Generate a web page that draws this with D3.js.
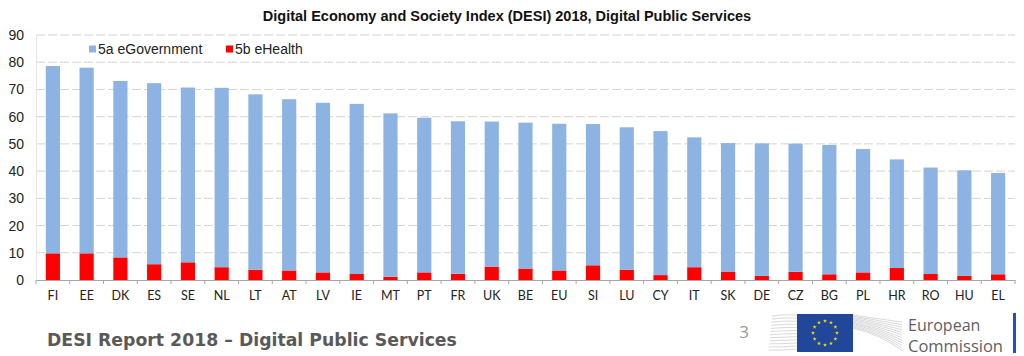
<!DOCTYPE html>
<html><head><meta charset="utf-8">
<script src="https://cdn.jsdelivr.net/npm/d3@7/dist/d3.min.js"></script>
<style>body{margin:0;background:#fff;}svg{display:block;}</style>
</head><body>
<svg id="c" width="1024" height="356"></svg>
<script>
const countries = ["FI","EE","DK","ES","SE","NL","LT","AT","LV","IE","MT","PT","FR","UK","BE","EU","SI","LU","CY","IT","SK","DE","CZ","BG","PL","HR","RO","HU","EL"];
const eHealth = [9.8,9.8,8.3,5.8,6.5,4.7,3.8,3.5,2.8,2.2,1.2,2.8,2.3,4.9,4.2,3.5,5.4,3.8,1.8,4.7,3.1,1.5,3.0,2.1,2.8,4.4,2.2,1.5,2.1];
const eGovernment = [68.8,68.2,64.8,66.5,64.2,65.9,64.4,62.9,62.3,62.5,60.0,56.8,56.0,53.3,53.6,53.9,51.9,52.3,52.9,47.7,47.2,48.7,47.1,47.5,45.3,39.9,39.1,38.8,37.2];
const yTicks = [0,10,20,30,40,50,60,70,80,90];
const seriesNames = ["5a eGovernment","5b eHealth"];
const title = "Digital Economy and Society Index (DESI) 2018, Digital Public Services";

const svg = d3.select("#c");
const L = 36, R = 1015, T = 35, B = 280;
const x = d3.scaleBand().domain(countries).range([L, R]).paddingInner(0.58).paddingOuter(0.29);
const xb = d3.scaleBand().domain(countries).range([L, R]);
const y = d3.scaleLinear().domain([0, 90]).range([B, T]);

const col = {"5a eGovernment":"#8db3e2","5b eHealth":"#ff0000"};

// title
svg.append("text").attr("x", 507).attr("y", 21).attr("text-anchor","middle")
  .attr("font-family","Liberation Sans, Arial, sans-serif").attr("font-weight","bold")
  .attr("font-size", 14.5).attr("fill","#111").text(title);

// grid
svg.append("g").selectAll("line").data(yTicks.filter(d=>d>0)).join("line")
  .attr("x1", L).attr("x2", R).attr("y1", d=>y(d)).attr("y2", d=>y(d))
  .attr("stroke","#d4d4d4").attr("stroke-width",1).attr("stroke-dasharray","9,3");

// y axis labels
const ya = d3.axisLeft(y).tickValues(yTicks).tickSize(0).tickPadding(12);
const gy = svg.append("g").attr("transform",`translate(${L},0)`).call(ya);
gy.select(".domain").attr("stroke","#e6e6e6");
gy.selectAll("text").attr("font-family","Liberation Sans, Arial, sans-serif").attr("font-size",14).attr("fill","#222");

// stacked bars
const stackData = countries.map((c,i)=>({c, "5b eHealth": eHealth[i], "5a eGovernment": eGovernment[i]}));
const stack = d3.stack().keys(["5b eHealth","5a eGovernment"])(stackData);
svg.append("g").selectAll("g").data(stack).join("g").attr("fill", d=>col[d.key])
  .selectAll("rect").data(d=>d).join("rect")
  .attr("x", d=>x(d.data.c)).attr("width", x.bandwidth())
  .attr("y", d=>y(d[1])).attr("height", d=>y(d[0])-y(d[1]));

// x axis
const xa = d3.axisBottom(xb).tickSize(0).tickPadding(11);
const gx = svg.append("g").attr("transform",`translate(0,${B})`).call(xa);
gx.select(".domain").attr("stroke","#a6a6a6");
gx.selectAll("text").attr("font-family","Lato, Open Sans, sans-serif").attr("font-size",12.5).attr("fill","#222");
gx.append("g").selectAll("line").data(countries.concat(["_end"])).join("line")
  .attr("x1", (d,i)=> L + i*xb.step()).attr("x2",(d,i)=> L + i*xb.step())
  .attr("y1",0).attr("y2",4).attr("stroke","#a6a6a6");

// legend
const lg = svg.append("g");
const lx = [89, 226];
seriesNames.forEach((s,i)=>{
  lg.append("rect").attr("x", lx[i]).attr("y", 45.5).attr("width",7).attr("height",7).attr("fill", col[s]);
  lg.append("text").attr("x", lx[i]+9).attr("y", 54).attr("font-family","Liberation Sans, Arial, sans-serif")
    .attr("font-size",14).attr("fill","#222").text(s);
});

// footer
svg.append("text").attr("x", 47).attr("y", 346).attr("font-family","DejaVu Sans, Verdana, sans-serif")
  .attr("font-weight","bold").attr("font-size",17.3).attr("fill","#595959").text("DESI Report 2018 – Digital Public Services");
svg.append("text").attr("x", 744).attr("y", 338).attr("text-anchor","middle").attr("font-family","Open Sans, sans-serif")
  .attr("font-size",17).attr("fill","#9a9a9a").text("3");

// building graphic (decorative lines)
const deco = svg.append("g").attr("stroke","#cfcfcf").attr("stroke-width",0.8).attr("fill","none");
for (let k=0;k<12;k++){
  const yy = 316 + k*3.1;
  deco.append("path").attr("d", `M${772 - k*0.3},${yy} Q785,${yy-2+k*0.2} 797,${yy-1}`);
  deco.append("path").attr("d", `M853,${315+k*1.2} Q${872+k*0.8},${318+k*1.5} ${902},${322+k*2.6}`);
}
// EU flag
svg.append("rect").attr("x",797).attr("y",314).attr("width",56).attr("height",38).attr("fill","#21479b");
const stars = svg.append("g").attr("fill","#ffdd00");
const starPath = d3.symbol().type(d3.symbolStar).size(5)();
d3.range(12).forEach(k=>{
  const a = k*Math.PI/6;
  stars.append("path").attr("d", starPath)
    .attr("transform", `translate(${825+12*Math.sin(a)},${333-12*Math.cos(a)})`);
});
svg.append("text").attr("x",908).attr("y",331).attr("font-family","Open Sans, sans-serif").attr("font-size",16).attr("fill","#5f5f5f").text("European");
svg.append("text").attr("x",908).attr("y",352).attr("font-family","Open Sans, sans-serif").attr("font-size",16.5).attr("fill","#5f5f5f").text("Commission");
svg.append("rect").attr("x",1013).attr("y",313).attr("width",3).attr("height",40).attr("fill","#1f4fc9");
</script>
</body></html>
